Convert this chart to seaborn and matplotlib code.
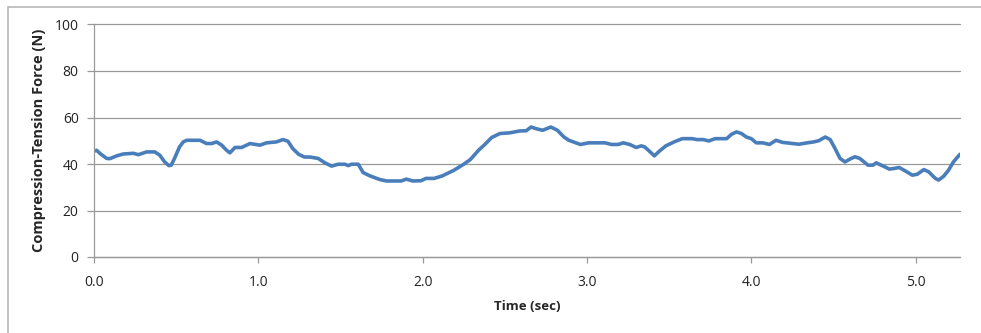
import pandas as pd
import matplotlib.pyplot as plt
import matplotlib.patches as patches
import seaborn as sns

# force trace (sec, N)
time_sec = [0.00, 0.016, 0.037, 0.077, 0.097, 0.138, 0.178, 0.24, 0.27, 0.32,
            0.37, 0.40, 0.43, 0.456, 0.47, 0.49, 0.52, 0.543, 0.564, 0.645,
            0.685, 0.716, 0.746, 0.777, 0.807, 0.827, 0.858, 0.898, 0.949, 1.01,
            1.05, 1.11, 1.15, 1.18, 1.21, 1.245, 1.28, 1.314, 1.364, 1.405,
            1.446, 1.486, 1.527, 1.547, 1.567, 1.608, 1.638, 1.679, 1.74, 1.78,
            1.87, 1.90, 1.94, 1.99, 2.02, 2.07, 2.12, 2.19, 2.25, 2.29,
            2.34, 2.38, 2.42, 2.47, 2.53, 2.59, 2.63, 2.66, 2.69, 2.73,
            2.78, 2.82, 2.86, 2.89, 2.96, 3.01, 3.11, 3.15, 3.19, 3.22,
            3.26, 3.30, 3.33, 3.35, 3.38, 3.41, 3.44, 3.48, 3.53, 3.58,
            3.64, 3.67, 3.71, 3.74, 3.78, 3.85, 3.88, 3.91, 3.94, 3.97,
            4.00, 4.03, 4.07, 4.11, 4.15, 4.19, 4.25, 4.29, 4.34, 4.38,
            4.41, 4.45, 4.48, 4.51, 4.54, 4.57, 4.60, 4.63, 4.66, 4.71,
            4.74, 4.76, 4.80, 4.84, 4.87, 4.90, 4.94, 4.98, 5.01, 5.05,
            5.08, 5.12, 5.14, 5.17, 5.20, 5.23, 5.27]
force_n = [45.5, 45.9, 44.5, 42.4, 42.3, 43.5, 44.3, 44.6, 44.0, 45.2,
           45.2, 43.8, 40.9, 39.3, 39.5, 42.4, 47.3, 49.5, 50.2, 50.2,
           48.8, 48.8, 49.5, 48.1, 45.9, 44.8, 47.1, 47.1, 48.8, 48.1,
           49.1, 49.5, 50.5, 49.8, 46.6, 44.2, 43.0, 43.0, 42.4, 40.5,
           39.1, 39.9, 39.9, 39.3, 39.9, 39.9, 36.3, 34.9, 33.3, 32.7,
           32.7, 33.5, 32.7, 32.8, 33.8, 33.8, 34.9, 37.3, 39.9, 41.9,
           45.9, 48.5, 51.4, 53.1, 53.4, 54.2, 54.3, 55.9, 55.2, 54.5,
           55.9, 54.5, 51.6, 50.2, 48.4, 49.1, 49.1, 48.4, 48.4, 49.1,
           48.4, 47.1, 47.8, 47.4, 45.5, 43.5, 45.5, 47.8, 49.5, 50.9,
           50.9, 50.5, 50.5, 49.9, 50.9, 50.9, 52.8, 53.8, 53.1, 51.6,
           50.9, 49.1, 49.1, 48.4, 50.2, 49.3, 48.8, 48.5, 49.1, 49.5,
           50.0, 51.6, 50.5, 46.6, 42.4, 40.9, 42.1, 43.1, 42.4, 39.5,
           39.5, 40.5, 39.2, 37.8, 38.1, 38.5, 36.9, 35.2, 35.6, 37.6,
           36.6, 33.8, 33.1, 34.7, 37.3, 40.9, 44.2]

y_ticks = [0, 20, 40, 60, 80, 100]
x_ticks = [0, 1, 2, 3, 4, 5]

df = pd.DataFrame({"Time (sec)": time_sec, "Force": force_n})

sns.set_theme(style="white")
plt.rcParams['font.family'] = ['Open Sans', 'DejaVu Sans']

fig = plt.figure(figsize=(9.81, 3.33), dpi=100)
ax = fig.add_axes([94 / 981, 76 / 333, 866 / 981, 232.5 / 333])

# outer chart border (cropped on the right/bottom like the original)
fig.patches.append(patches.Rectangle((8 / 981, -0.1), 1.2, 1.1 - 7 / 333,
                                     transform=fig.transFigure, fill=False,
                                     edgecolor='#b8b8b8', linewidth=1.2))

sns.lineplot(data=df, x="Time (sec)", y="Force", ax=ax, color='#4a7ebb', linewidth=2.6)

ax.set_xlim(0, 5.27)
ax.set_ylim(0, 100)
ax.set_yticks(y_ticks)
ax.set_xticks(x_ticks)
ax.set_xticklabels([f"{v:.1f}" for v in x_ticks])
ax.yaxis.grid(True, color='#999999', linewidth=0.9)
ax.xaxis.grid(False)
for gl in ax.get_ygridlines():
    gl.set_clip_on(False)
for s in ['top', 'right']:
    ax.spines[s].set_visible(False)
for s in ['left', 'bottom']:
    ax.spines[s].set_color('#999999')
    ax.spines[s].set_linewidth(0.9)
ax.tick_params(axis='y', length=5, width=0.9, color='#999999', labelsize=10,
               labelcolor='#222222', pad=6, left=True)
ax.tick_params(axis='x', length=4, width=0.9, color='#999999', labelsize=10,
               labelcolor='#222222', pad=9, bottom=True)

ax.set_xlabel("Time (sec)", fontsize=9.5, fontweight='bold', labelpad=7)
ax.set_ylabel("Compression-Tension Force (N)", fontsize=10.5, fontweight='bold', labelpad=6)

fig.savefig("out.png", dpi=100)
